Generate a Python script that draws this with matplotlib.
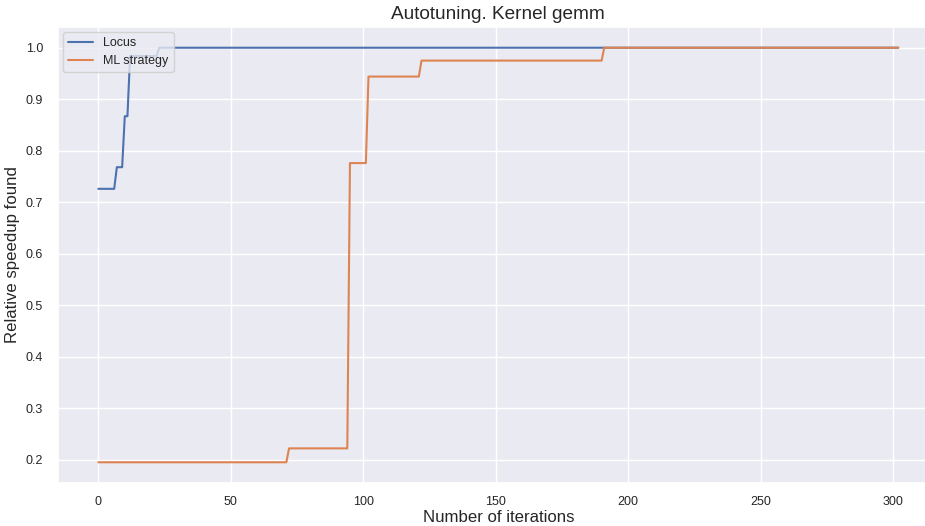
import numpy as np
import matplotlib
matplotlib.use("Agg")
import matplotlib.pyplot as plt
import seaborn as sns

sns.set_theme(style="darkgrid")
plt.rcParams["font.family"] = ["Liberation Sans", "DejaVu Sans"]

n_iter = 303
# step levels and the iteration where each level starts
locus_levels = [0.726, 0.768, 0.867, 0.984, 1.0]
locus_starts = [0, 7, 10, 12, 23]
ml_levels = [0.195, 0.222, 0.776, 0.944, 0.975, 1.0]
ml_starts = [0, 72, 95, 102, 122, 191]


def expand(levels, starts, n):
    lengths = np.diff(starts + [n])
    return np.repeat(levels, lengths)


x = np.arange(n_iter)
locus = expand(locus_levels, locus_starts, n_iter)
ml = expand(ml_levels, ml_starts, n_iter)

fig = plt.figure(figsize=(9.25, 5.26), dpi=100)
ax = fig.add_axes([58.3 / 925, 1 - 483 / 526, 880 / 925, 456 / 526])
ax.plot(x, locus, label="Locus")
ax.plot(x, ml, label="ML strategy")
ax.set_title("Autotuning. Kernel gemm", fontsize=13.7, pad=6)
ax.set_xlabel("Number of iterations", fontsize=12.1, labelpad=1)
ax.set_ylabel("Relative speedup found", fontsize=12.1, labelpad=4)
ax.tick_params(labelsize=9)
ax.tick_params(axis="y", pad=5)
ax.legend(loc="upper left", borderaxespad=0.4, fontsize=9)

fig.savefig("out.png", dpi=100)
